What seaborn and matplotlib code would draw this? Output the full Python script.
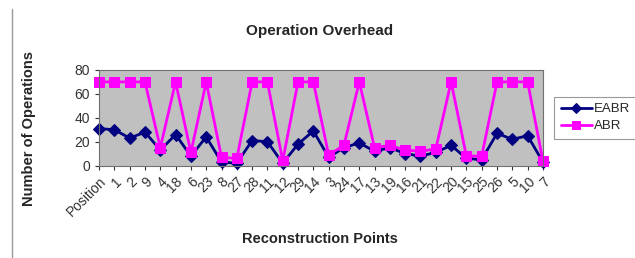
import numpy as np
import pandas as pd
import matplotlib
matplotlib.use("Agg")
import matplotlib.pyplot as plt
import seaborn as sns
from matplotlib.lines import Line2D

# data
points = ["Position", "1", "2", "9", "4", "18", "6", "23", "8", "27", "28", "11",
          "12", "29", "14", "3", "24", "17", "13", "19", "16", "21", "22", "20",
          "15", "25", "26", "5", "10", "7"]
eabr = [31, 30, 23, 28, 13, 26, 8, 24, 3, 2, 21, 20, 2, 18, 29, 7, 15, 19, 12,
        15, 10, 8, 11, 17, 6, 5, 27, 22, 25, 3]
abr = [70, 70, 70, 70, 15, 70, 11, 70, 7, 6, 70, 70, 4, 70, 70, 9, 17, 70, 15,
       17, 13, 12, 14, 70, 8, 8, 70, 70, 70, 4]

df = pd.DataFrame({"idx": np.arange(len(points)), "EABR": eabr, "ABR": abr})

sns.set_style("white")
plt.rcParams["font.family"] = ["Liberation Sans", "DejaVu Sans"]

fig = plt.figure(figsize=(6.35, 2.58), dpi=100)
ax = fig.add_axes([0.156, 0.358, 0.699, 0.371])
ax.set_facecolor("#c0c0c0")

sns.lineplot(data=df, x="idx", y="EABR", ax=ax, color="#000080", marker="D",
             markersize=6, markeredgecolor="#000080", linewidth=2,
             label="EABR", clip_on=False)
sns.lineplot(data=df, x="idx", y="ABR", ax=ax, color="#ff00ff", marker="s",
             markersize=7, markeredgecolor="#ff00ff", linewidth=2,
             label="ABR", clip_on=False)

ax.set_xlim(0, len(points) - 1)
ax.set_ylim(0, 80)
ax.set_yticks([0, 20, 40, 60, 80])
ax.set_xticks(df["idx"])
ax.set_xticklabels(points, rotation=45, ha="right", rotation_mode="anchor")
ax.tick_params(axis="both", labelsize=10, colors="#333333", direction="out",
               length=3, width=0.8, bottom=True, left=True)
for s in ax.spines.values():
    s.set_color("#707070")
    s.set_linewidth(0.8)

ax.set_xlabel("")
ax.set_ylabel("")
fig.text(0.504, 0.88, "Operation Overhead", ha="center", va="center",
         fontsize=11, fontweight="bold")
fig.text(0.504, 0.074, "Reconstruction Points", ha="center", va="center",
         fontsize=10.5, fontweight="bold")
fig.text(0.045, 0.50, "Number of Operations", ha="center", va="center",
         rotation=90, fontsize=10.5, fontweight="bold")

leg = ax.legend(loc="center left", bbox_to_anchor=(1.025, 0.5), frameon=True,
                fancybox=False, fontsize=9.5, handlelength=2.4,
                borderpad=0.5, labelspacing=0.35, handletextpad=0.1,
                borderaxespad=0.0, markerscale=0.85)
leg.get_frame().set_edgecolor("#808080")
leg.get_frame().set_linewidth(0.8)

# thin border line on the left edge of the picture
fig.add_artist(Line2D([0.019, 0.019], [0.0, 0.965], color="#999999",
                      linewidth=1.0, transform=fig.transFigure))

fig.savefig("out.png", dpi=100)
